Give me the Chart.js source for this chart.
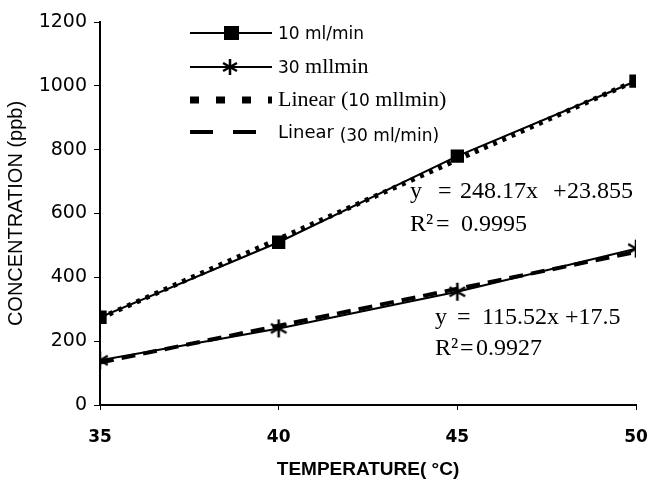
<!DOCTYPE html>
<html>
<head>
<meta charset="utf-8">
<style>
  body { margin: 0; background: #fff; }
  #wrap { width: 649px; height: 485px; position: relative; }
</style>
<script src="https://cdn.jsdelivr.net/npm/chart.js@4.4.0/dist/chart.umd.min.js"></script>
</head>
<body>
<div id="wrap"><canvas id="myChart" width="649" height="485"></canvas></div>
<script>
const temps = [35, 40, 45, 50];
const flow10 = [275, 510, 780, 1015];
const flow30 = [140, 240, 355, 490];
// trendline coefficients (x = point index 1..4, as in the spreadsheet)
const fit10 = [248.17, 23.855];
const fit30 = [115.52, 17.5];
const yTicks = [0, 200, 400, 600, 800, 1000, 1200];

const pts = (ys) => temps.map((t, i) => ({ x: t, y: ys[i] }));
const fitPts = (f) => temps.map((t, i) => ({ x: t, y: f[0] * (i + 1) + f[1] }));

const SANS = '"DejaVu Sans"';
const SERIF = '"Liberation Serif"';

// six-armed asterisk marker
function drawAsterisk(c, cx, cy, r) {
  c.beginPath();
  for (let a = 0; a < 3; a++) {
    const ang = Math.PI / 2 + a * Math.PI / 3;
    c.moveTo(cx + r * Math.cos(ang), cy + r * Math.sin(ang));
    c.lineTo(cx - r * Math.cos(ang), cy - r * Math.sin(ang));
  }
  c.stroke();
}
const star = document.createElement('canvas');
star.width = 20; star.height = 20;
const sc = star.getContext('2d');
sc.strokeStyle = '#000'; sc.lineWidth = 2.5;
drawAsterisk(sc, 10, 10, 9);

// legend rows: text pieces as [text, font, baseline shift]
const legendItems = [
  { parts: [['10 ml/min', '17px ' + SANS, 0]], y: 33, dash: [], w: 2, marker: 'rect' },
  { parts: [['30 ', '17px ' + SANS, 0], ['mllmin', '22px ' + SERIF, 0]], y: 67, dash: [], w: 2, marker: 'star' },
  { parts: [['Linear (', '22px ' + SERIF, 0], ['10', '17px ' + SANS, 0], [' mllmin)', '22px ' + SERIF, 0]], y: 100, dash: [9, 17], w: 7 },
  { parts: [['Linear ', '18px ' + SANS, 0], ['(30 ml/min)', '17px ' + SANS, 3]], y: 132, dash: [23, 20], w: 4 }
];

// regression labels: [text, x, y]
const eqText = [
  ['y', 410, 192], ['=', 438, 192], ['248.17x', 460, 192], ['+', 553, 192], ['23.855', 567, 192],
  ['R\u00b2', 410, 225], ['=', 436, 225], ['0.9995', 461, 225],
  ['y', 435, 318], ['=', 457, 318], ['115.52x', 482, 318], ['+17.5', 565, 318],
  ['R\u00b2', 435, 349], ['=', 460, 349], ['0.9927', 476, 349]
];

const notes = {
  id: 'notes',
  afterDraw(chart) {
    const c = chart.ctx;
    c.save();
    c.strokeStyle = '#000';
    c.fillStyle = '#000';
    legendItems.forEach(it => {
      c.beginPath();
      c.setLineDash(it.dash);
      c.lineWidth = it.w;
      c.moveTo(190, it.y);
      c.lineTo(272, it.y);
      c.stroke();
      c.setLineDash([]);
      if (it.marker === 'rect') {
        c.fillRect(224, it.y - 7, 15, 14);
      } else if (it.marker === 'star') {
        c.lineWidth = 2.5;
        drawAsterisk(c, 230, it.y, 8);
      }
      c.textBaseline = 'alphabetic';
      let x = 278;
      it.parts.forEach(([t, f, dy]) => {
        c.font = f;
        c.fillText(t, x, it.y + 6 + dy);
        x += c.measureText(t).width;
      });
    });
    c.textBaseline = 'middle';
    c.font = '24px ' + SERIF;
    eqText.forEach(([t, x, y]) => c.fillText(t, x, y));
    c.restore();
  }
};

new Chart(document.getElementById('myChart'), {
  type: 'scatter',
  data: {
    datasets: [
      { label: 'Linear (10 mllmin)', data: fitPts(fit10), showLine: true, pointRadius: 0,
        borderColor: '#000', borderWidth: 5, borderDash: [4, 6] },
      { label: 'Linear (30 ml/min)', data: fitPts(fit30), showLine: true, pointRadius: 0,
        borderColor: '#000', borderWidth: 4, borderDash: [14, 8] },
      { label: '10 ml/min', data: pts(flow10), showLine: true, borderColor: '#000', borderWidth: 2,
        pointStyle: 'rect', pointRadius: 8, backgroundColor: '#000', pointBorderColor: '#000' },
      { label: '30 mllmin', data: pts(flow30), showLine: true, borderColor: '#000', borderWidth: 2,
        pointStyle: star, pointRadius: 10 }
    ]
  },
  options: {
    responsive: false,
    animation: false,
    layout: { padding: { top: 22, right: 13, left: 0, bottom: 0 } },
    plugins: { legend: { display: false }, tooltip: { enabled: false } },
    scales: {
      x: {
        type: 'linear', min: 35, max: 50,
        afterFit: (s) => { s.height = 80; s.paddingLeft = 0; s.paddingRight = 0; },
        border: { color: '#000', width: 2 },
        grid: { drawOnChartArea: false, color: '#000', tickLength: 5 },
        ticks: { stepSize: 5, color: '#000', font: { family: 'DejaVu Sans', size: 17, weight: 'bold' }, padding: 17 },
        title: { display: true, text: 'TEMPERATURE( \u00b0C)', color: '#000',
          font: { family: 'Liberation Sans', size: 19, weight: 'bold' }, padding: { top: 4 } }
      },
      y: {
        min: 0, max: 1200,
        afterFit: (s) => { s.width = 100; s.paddingTop = 0; s.paddingBottom = 0; },
        afterBuildTicks: (s) => { s.ticks = yTicks.map(v => ({ value: v })); },
        border: { color: '#000', width: 2 },
        grid: { drawOnChartArea: false, color: '#000', tickLength: 6 },
        ticks: { color: '#000', font: { family: 'DejaVu Sans', size: 19 }, padding: 7,
          callback: (v) => String(v) },
        title: { display: true, text: 'CONCENTRATION (ppb)', color: '#000',
          font: { family: 'Liberation Sans', size: 20 }, padding: { bottom: 0 } }
      }
    }
  },
  plugins: [notes]
});
</script>
</body>
</html>
